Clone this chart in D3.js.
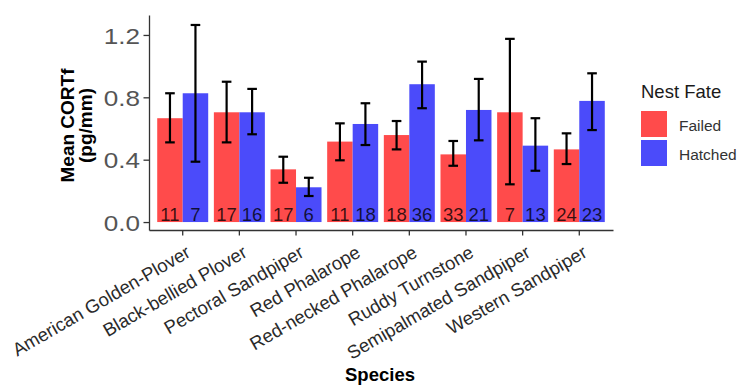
<!DOCTYPE html>
<html>
<head>
<meta charset="utf-8">
<script src="https://cdn.jsdelivr.net/npm/d3@7"></script>
<style>
  html, body { margin: 0; padding: 0; background: #fff; }
  svg { display: block; font-family: "Liberation Sans", Arial, sans-serif; }
</style>
</head>
<body>
<svg id="chart" width="740" height="385"></svg>
<script>
const species = ["American Golden-Plover", "Black-bellied Plover", "Pectoral Sandpiper", "Red Phalarope",
  "Red-necked Phalarope", "Ruddy Turnstone", "Semipalmated Sandpiper", "Western Sandpiper"];
const fates = ["Failed", "Hatched"];
const failedMean  = [0.666, 0.704, 0.338, 0.516, 0.558, 0.434, 0.704, 0.466];
const failedLo    = [0.511, 0.511, 0.252, 0.396, 0.466, 0.361, 0.242, 0.372];
const failedHi    = [0.826, 0.900, 0.419, 0.633, 0.648, 0.520, 1.175, 0.569];
const hatchedMean = [0.826, 0.704, 0.223, 0.629, 0.884, 0.719, 0.490, 0.777];
const hatchedLo   = [0.387, 0.563, 0.167, 0.494, 0.730, 0.524, 0.329, 0.590];
const hatchedHi   = [1.264, 0.854, 0.284, 0.762, 1.029, 0.918, 0.666, 0.954];
const failedN     = [11, 17, 17, 11, 18, 33, 7, 24];
const hatchedN    = [7, 16, 6, 18, 36, 21, 13, 23];
const yTicks = [0.0, 0.4, 0.8, 1.2];
const colors = { Failed: "#FF4B4B", Hatched: "#4B4BFA" };

const rows = [];
species.forEach((s, i) => {
  rows.push({ species: s, fate: "Failed", mean: failedMean[i], lo: failedLo[i], hi: failedHi[i], n: failedN[i] });
  rows.push({ species: s, fate: "Hatched", mean: hatchedMean[i], lo: hatchedLo[i], hi: hatchedHi[i], n: hatchedN[i] });
});

const svg = d3.select("#chart");
const pLeft = 149, pRight = 613, pTop = 15, pBottom = 230;

const x = d3.scaleBand().domain(species).range([pLeft, pRight]).paddingInner(0).paddingOuter(0.095);
const groupW = x.bandwidth() * 0.9;
const xSub = d3.scaleBand().domain(fates).range([0, groupW]);
const y = d3.scaleLinear().domain([-0.051, 1.328]).range([pBottom, pTop]);
const gx = s => x(s) + x.bandwidth() * 0.05;

// bars
svg.append("g").selectAll("rect").data(rows).join("rect")
  .attr("x", d => gx(d.species) + xSub(d.fate))
  .attr("y", d => y(d.mean))
  .attr("width", xSub.bandwidth())
  .attr("height", d => y(0) - y(d.mean))
  .attr("fill", d => colors[d.fate]);

// count labels
svg.append("g").selectAll("text").data(rows).join("text")
  .attr("x", d => gx(d.species) + xSub(d.fate) + xSub.bandwidth() / 2)
  .attr("y", y(0) - 1.5)
  .attr("text-anchor", "middle")
  .attr("font-size", 18.5)
  .attr("fill", "#000")
  .attr("fill-opacity", 0.78)
  .text(d => d.n);

// error bars
const eb = svg.append("g").attr("stroke", "#000").attr("stroke-width", 2.2).attr("fill", "none");
const capHalf = 4.8;
rows.forEach(d => {
  const cx = gx(d.species) + xSub(d.fate) + xSub.bandwidth() / 2;
  eb.append("line").attr("x1", cx).attr("x2", cx).attr("y1", y(d.lo)).attr("y2", y(d.hi));
  eb.append("line").attr("x1", cx - capHalf).attr("x2", cx + capHalf).attr("y1", y(d.lo)).attr("y2", y(d.lo));
  eb.append("line").attr("x1", cx - capHalf).attr("x2", cx + capHalf).attr("y1", y(d.hi)).attr("y2", y(d.hi));
});

// y axis
const yAxis = svg.append("g").attr("transform", `translate(${pLeft},0)`)
  .call(d3.axisLeft(y).tickValues(yTicks).tickFormat(d3.format(".1f")).tickSize(5.5).tickSizeOuter(0));
yAxis.select(".domain").attr("stroke", "#333").attr("stroke-width", 1.3);
yAxis.selectAll(".tick line").attr("stroke", "#333").attr("stroke-width", 1.3);
yAxis.selectAll(".tick text")
  .attr("font-size", 22.5).attr("fill", "#555")
  .attr("font-family", "Liberation Sans, Arial, sans-serif")
  .attr("x", -7.8)
  .attr("dy", "0.36em")
  .attr("transform", "scale(1.16,1)");

// x axis
const xAxis = svg.append("g").attr("transform", `translate(0,${pBottom})`)
  .call(d3.axisBottom(x).tickSize(5.5).tickSizeOuter(0));
xAxis.select(".domain").attr("stroke", "#333").attr("stroke-width", 1.3);
xAxis.selectAll(".tick line").attr("stroke", "#333").attr("stroke-width", 1.3);
xAxis.selectAll(".tick text")
  .attr("font-size", 18.5).attr("fill", "#2a2a2a")
  .attr("font-family", "Liberation Sans, Arial, sans-serif")
  .attr("text-anchor", "end")
  .attr("dy", null).attr("y", null)
  .attr("transform", "translate(9,26) rotate(-30)");

// axis titles
svg.append("text")
  .attr("x", (pLeft + pRight) / 2 - 1).attr("y", 381)
  .attr("text-anchor", "middle").attr("font-weight", "bold").attr("font-size", 18.5)
  .attr("fill", "#000").text("Species");
const yt = svg.append("text")
  .attr("transform", `translate(0,${(pTop + pBottom) / 2 + 3}) rotate(-90)`)
  .attr("text-anchor", "middle").attr("font-weight", "bold").attr("font-size", 19)
  .attr("fill", "#000");
yt.append("tspan").attr("x", 0).attr("y", 74).text("Mean CORTf");
yt.append("tspan").attr("x", 0).attr("y", 92).text("(pg/mm)");

// legend
const lg = svg.append("g").attr("transform", "translate(641,0)");
lg.append("text").attr("x", 0).attr("y", 98).attr("font-size", 18.5).attr("fill", "#1a1a1a").text("Nest Fate");
fates.forEach((f, i) => {
  lg.append("rect").attr("x", 0).attr("y", 111 + i * 29).attr("width", 26).attr("height", 26)
    .attr("fill", colors[f]);
  lg.append("text").attr("x", 38).attr("y", 111 + i * 29 + 13).attr("dy", "0.42em")
    .attr("font-size", 15.5).attr("fill", "#333").text(f);
});
</script>
</body>
</html>
